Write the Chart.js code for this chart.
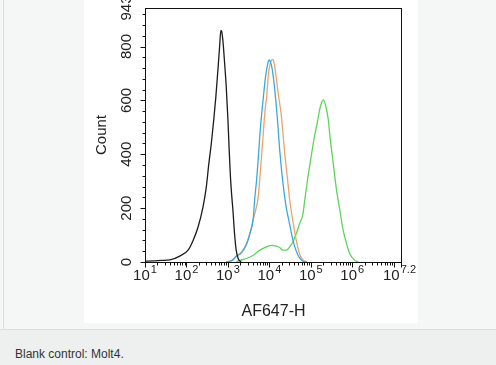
<!DOCTYPE html>
<html>
<head>
<meta charset="utf-8">
<script src="https://cdn.jsdelivr.net/npm/chart.js@4.4.0/dist/chart.umd.min.js"></script>
<style>
	html, body { margin: 0; padding: 0; }
	body { width: 496px; height: 365px; background: #f5f6f6; position: relative; overflow: hidden; font-family: "Liberation Sans", Arial, sans-serif; }
	#frame { position: absolute; left: 3px; top: 0; width: 493px; height: 329px; border-left: 1px solid #dcdede; box-sizing: border-box; }
	#panel { position: absolute; left: 84px; top: 0; width: 334px; height: 323px; background: #fff; }
	#caption { position: absolute; left: 0; top: 329px; width: 496px; height: 36px; background: #eef0f0; border-top: 1px solid #dcdede; box-sizing: border-box; }
	#caption span { position: absolute; left: 15px; top: 17px; font-size: 12px; line-height: 14px; color: #333; }
</style>
</head>
<body>
<div id="frame"></div>
<div id="panel"><canvas id="histChart" width="334" height="323"></canvas></div>
<div id="caption"><span>Blank control: Molt4.</span></div>
<script>
// x values are log10 of AF647-H, y values are event counts
const controlExp = [1.00, 1.20, 1.40, 1.60, 1.84, 2.04, 2.16, 2.28, 2.40, 2.48, 2.54, 2.60, 2.66, 2.71, 2.76, 2.80, 2.83, 2.85, 2.88, 2.92, 2.96, 3.00, 3.03, 3.06, 3.09, 3.12, 3.16, 3.20, 3.25, 3.32];
const controlCount = [3, 4, 6, 8, 22, 44, 80, 130, 205, 280, 365, 440, 530, 615, 715, 800, 860, 856, 820, 740, 650, 530, 420, 320, 250, 195, 106, 44, 12, 0];

const blueExp = [2.96, 3.10, 3.20, 3.33, 3.45, 3.53, 3.61, 3.65, 3.69, 3.73, 3.78, 3.85, 3.91, 3.97, 3.99, 4.02, 4.07, 4.13, 4.19, 4.25, 4.33, 4.41, 4.49, 4.57, 4.65, 4.73, 4.81, 4.90];
const blueCount = [0, 6, 20, 35, 66, 105, 160, 240, 300, 380, 490, 604, 690, 742, 750, 745, 715, 640, 540, 415, 290, 200, 140, 80, 40, 15, 3, 0];

const orangeExp = [2.96, 3.10, 3.20, 3.33, 3.45, 3.53, 3.61, 3.69, 3.73, 3.78, 3.84, 3.90, 3.93, 3.98, 4.04, 4.09, 4.12, 4.17, 4.21, 4.29, 4.37, 4.45, 4.49, 4.57, 4.65, 4.73, 4.81, 4.90];
const orangeCount = [0, 6, 22, 37, 69, 106, 156, 206, 240, 330, 450, 570, 604, 700, 745, 752, 735, 680, 630, 542, 405, 290, 231, 150, 80, 30, 8, 0];

const greenExp = [3.20, 3.29, 3.45, 3.61, 3.77, 3.93, 4.05, 4.17, 4.25, 4.33, 4.41, 4.49, 4.57, 4.65, 4.73, 4.81, 4.85, 4.93, 5.01, 5.09, 5.16, 5.20, 5.26, 5.30, 5.36, 5.42, 5.47, 5.54, 5.62, 5.70, 5.78, 5.86, 5.94, 6.06, 6.15];
const greenCount = [0, 6, 13, 25, 44, 56, 62, 59, 54, 44, 44, 56, 75, 106, 143, 178, 225, 315, 393, 467, 520, 555, 592, 602, 580, 530, 455, 368, 268, 193, 118, 69, 31, 6, 0];

const xTickExps = [1, 2, 3, 4, 5, 6, 7.2];
const yTicks = [0, 200, 400, 600, 800, 943];
const yMax = 943;

const toPoints = (exps, counts) => exps.map((e, i) => ({ x: Math.pow(10, e), y: counts[i] }));

const series = (data, color) => {
	return {
		data: data,
		borderColor: color,
		borderWidth: 1.3,
		pointRadius: 0,
		fill: false,
		cubicInterpolationMode: 'monotone'
	}
}

const textColor = '#222';
const font = (size) => size + 'px "Liberation Sans", Arial, sans-serif';

// box, ticks and labels drawn off the chart's own scales
const axisDecor = {
	id: 'axisDecor',
	afterDatasetsDraw(chart) {
		const { ctx, chartArea: a, scales: { x, y } } = chart;
		ctx.save();
		ctx.strokeStyle = '#111';
		ctx.lineWidth = 1;
		ctx.strokeRect(a.left + 0.5, a.top + 0.5, a.right - a.left - 1, a.bottom - a.top);

		ctx.beginPath();
		for (let d = 1; d <= 7; d++) {
			for (let k = 1; k <= 9; k++) {
				const v = k * Math.pow(10, d);
				if (v > x.max) continue;
				const px = Math.round(x.getPixelForValue(v)) + 0.5;
				const len = k === 1 ? 5 : 3;
				ctx.moveTo(px, a.bottom + 0.5);
				ctx.lineTo(px, a.bottom + 0.5 + len);
			}
		}
		const pr = a.right - 0.5;
		ctx.moveTo(pr, a.bottom + 0.5);
		ctx.lineTo(pr, a.bottom + 5.5);
		for (let v = 0; v <= 920; v += 40) {
			const py = Math.round(y.getPixelForValue(v)) + 0.5;
			const len = v % 200 === 0 ? 5 : 3;
			ctx.moveTo(a.left + 0.5, py);
			ctx.lineTo(a.left + 0.5 - len, py);
		}
		ctx.stroke();

		ctx.fillStyle = textColor;
		ctx.textBaseline = 'alphabetic';
		xTickExps.forEach(e => {
			ctx.font = font(15);
			const baseW = ctx.measureText('10').width;
			ctx.font = font(11);
			const expW = ctx.measureText(String(e)).width;
			const total = baseW + 1 + expW;
			let left = x.getPixelForValue(Math.pow(10, e)) - total / 2;
			if (left + total > chart.width - 2) left = chart.width - 2 - total;
			ctx.font = font(15);
			ctx.textAlign = 'left';
			ctx.fillText('10', left, 280);
			ctx.font = font(11);
			ctx.fillText(String(e), left + baseW + 1, 273);
		});

		ctx.font = font(15);
		ctx.textAlign = 'center';
		yTicks.forEach(v => {
			ctx.save();
			ctx.translate(47, y.getPixelForValue(v));
			ctx.rotate(-Math.PI / 2);
			ctx.fillText(String(v), 0, 0);
			ctx.restore();
		});

		ctx.save();
		ctx.translate(21.5, (a.top + a.bottom) / 2);
		ctx.rotate(-Math.PI / 2);
		ctx.fillText('Count', 0, 0);
		ctx.restore();

		ctx.font = font(16);
		ctx.fillText('AF647-H', (a.left + a.right) / 2, 316);
		ctx.restore();
	}
}

const histChart = new Chart('histChart', {
	type: 'line',
	data: {
		datasets: [
			series(toPoints(controlExp, controlCount), '#1c1c1c'),
			series(toPoints(blueExp, blueCount), '#3aa9de'),
			series(toPoints(orangeExp, orangeCount), '#f0a26c'),
			series(toPoints(greenExp, greenCount), '#5ed35e')
		]
	},
	options: {
		responsive: false,
		animation: false,
		devicePixelRatio: 1,
		parsing: true,
		layout: { padding: { top: 8, right: 16, left: 0, bottom: 0 } },
		plugins: {
			legend: { display: false },
			tooltip: { enabled: false }
		},
		scales: {
			x: {
				type: 'logarithmic',
				min: 10,
				max: Math.pow(10, 7.2),
				ticks: { display: false },
				grid: { display: false },
				border: { display: false },
				afterFit: (s) => { s.height = 61 }
			},
			y: {
				type: 'linear',
				min: 0,
				max: yMax,
				ticks: { display: false },
				grid: { display: false },
				border: { display: false },
				afterFit: (s) => { s.width = 61 }
			}
		}
	},
	plugins: [axisDecor]
});
</script>
</body>
</html>
